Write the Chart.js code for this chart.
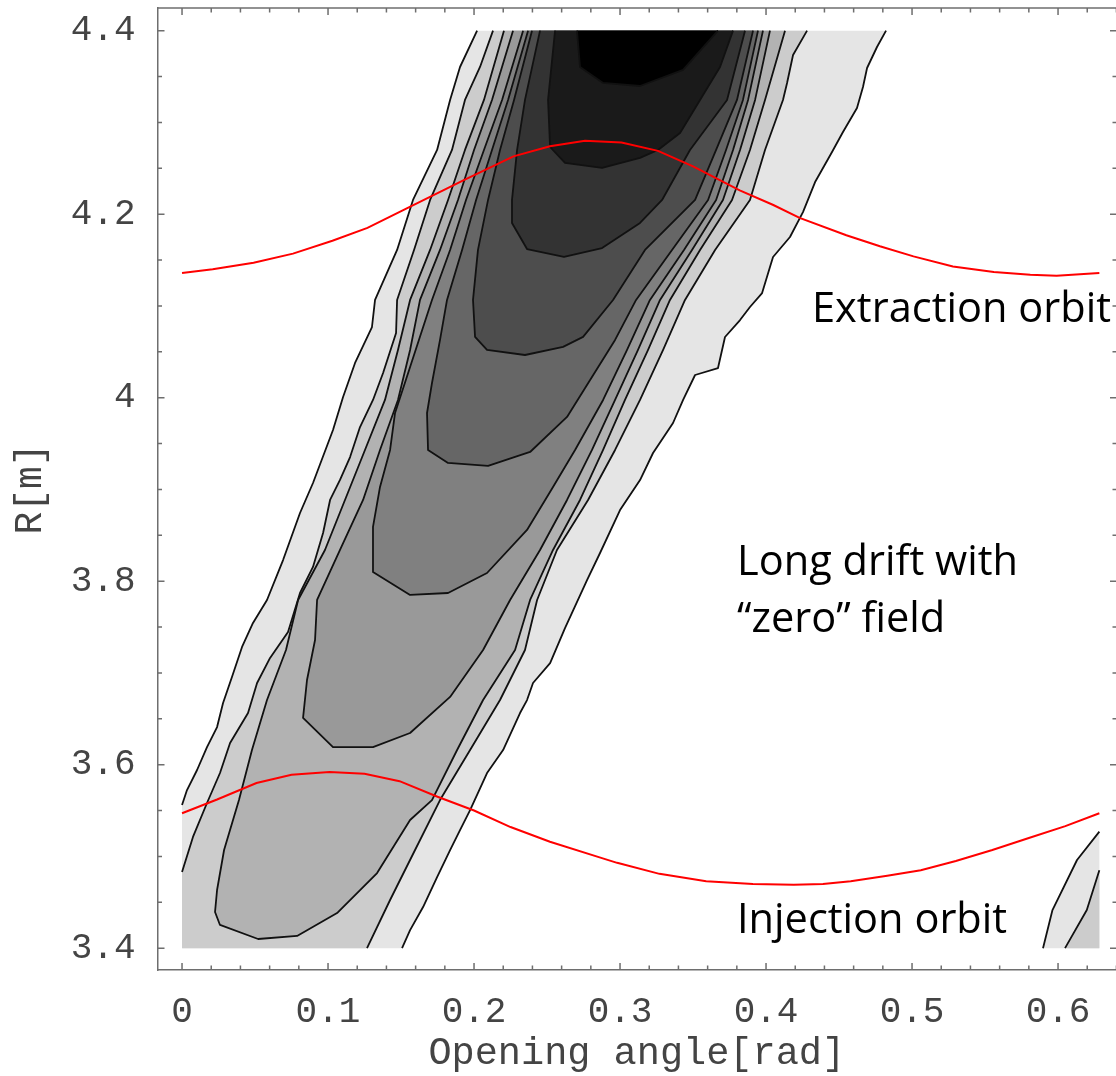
<!DOCTYPE html>
<html>
<head>
<meta charset="utf-8">
<script src="https://cdn.jsdelivr.net/npm/chart.js@4.4.1/dist/chart.umd.min.js"></script>
<style>
    html, body { margin: 0; padding: 0; background: #ffffff; }
    #chartWrap { width: 1116px; height: 1076px; position: relative; }
</style>
</head>
<body>
<div id="chartWrap"><canvas id="contourChart"></canvas></div>
<script>

// axis ticks
const xTickValues = [0, 0.1, 0.2, 0.3, 0.4, 0.5, 0.6];
const yTickValues = [3.4, 3.6, 3.8, 4.0, 4.2, 4.4];

// data region (the contour grid)
const dataXMax = 0.6283;
const dataYMin = 3.4;
const dataYMax = 4.4;

// red orbits
const extractionX = [0, 0.021, 0.049, 0.076, 0.103, 0.127, 0.156, 0.193, 0.227, 0.252, 0.276, 0.301, 0.326, 0.350, 0.382, 0.405, 0.423, 0.455, 0.478, 0.501, 0.528, 0.556, 0.581, 0.599, 0.6283];
const extractionY = [4.136, 4.140, 4.147, 4.157, 4.171, 4.185, 4.208, 4.237, 4.263, 4.274, 4.280, 4.278, 4.269, 4.252, 4.226, 4.210, 4.196, 4.177, 4.165, 4.154, 4.143, 4.137, 4.134, 4.133, 4.136];

const injectionX = [0, 0.024, 0.051, 0.075, 0.101, 0.125, 0.149, 0.175, 0.200, 0.225, 0.252, 0.286, 0.298, 0.327, 0.359, 0.391, 0.419, 0.439, 0.458, 0.483, 0.506, 0.530, 0.555, 0.580, 0.605, 0.6283];
const injectionY = [3.547, 3.562, 3.580, 3.589, 3.592, 3.590, 3.582, 3.565, 3.550, 3.532, 3.516, 3.499, 3.493, 3.481, 3.473, 3.470, 3.469, 3.470, 3.473, 3.479, 3.485, 3.495, 3.507, 3.520, 3.533, 3.547];

// contour regions, outermost (lightest) to innermost (darkest)
const contourLevel1 = [
    [0.2021, 4.4], [0.1904, 4.3604], [0.1836, 4.3245], [0.1747, 4.27], [0.1582, 4.2155], [0.1473, 4.161],
    [0.1322, 4.1065], [0.1301, 4.077], [0.1185, 4.0378], [0.1103, 4.0008], [0.1034, 3.9648], [0.0897, 3.907],
    [0.0808, 3.8743], [0.0692, 3.823], [0.0582, 3.7795], [0.0486, 3.7545], [0.0411, 3.7283], [0.0342, 3.6956],
    [0.0281, 3.6672], [0.024, 3.641], [0.0171, 3.6192], [0.0103, 3.5942], [0.0034, 3.5723], [0, 3.556],
    [0, 3.4],
    [0.1507, 3.4], [0.1562, 3.4197], [0.1651, 3.4448], [0.1747, 3.4775], [0.1836, 3.5069], [0.1904, 3.5287],
    [0.1973, 3.5505], [0.2089, 3.5909], [0.2199, 3.6159], [0.2315, 3.6563], [0.2363, 3.6704], [0.2404, 3.689],
    [0.2521, 3.7107], [0.2623, 3.7489], [0.2774, 3.8012], [0.2863, 3.8307], [0.3, 3.8775], [0.3137, 3.9102],
    [0.3226, 3.9397], [0.3363, 3.9724], [0.3432, 3.9975], [0.3514, 4.0247], [0.3671, 4.0323], [0.3719, 4.0661],
    [0.3822, 4.0846], [0.389, 4.0988], [0.3973, 4.114], [0.4027, 4.1424], [0.4048, 4.1533], [0.4164, 4.1751],
    [0.4253, 4.2023], [0.4336, 4.235], [0.4452, 4.2677], [0.4527, 4.2895], [0.4623, 4.3157], [0.4664, 4.3386],
    [0.4692, 4.3593], [0.476, 4.3822], [0.4822, 4.4]
];

const contourLevel2 = [
    [0.213, 4.4], [0.2041, 4.3604], [0.1938, 4.3245], [0.1849, 4.27], [0.1699, 4.2155], [0.1589, 4.161],
    [0.1473, 4.1065], [0.1466, 4.0705], [0.1377, 4.0269], [0.1308, 3.9975], [0.1219, 3.968], [0.1151, 3.9353],
    [0.1082, 3.9103], [0.1014, 3.8885], [0.0966, 3.8525], [0.0897, 3.8155], [0.0808, 3.7871], [0.0726, 3.7447],
    [0.0603, 3.7163], [0.0514, 3.689], [0.0452, 3.6563], [0.0329, 3.6236], [0.026, 3.5909], [0.0171, 3.5582],
    [0.0075, 3.5212], [0, 3.483],
    [0, 3.4],
    [0.1267, 3.4], [0.1425, 3.4525], [0.1596, 3.507], [0.1767, 3.5614], [0.1973, 3.616], [0.2178, 3.6705],
    [0.2349, 3.725], [0.2432, 3.7795], [0.2568, 3.834], [0.2781, 3.8885], [0.2966, 3.943], [0.3137, 3.9975],
    [0.3295, 4.052], [0.3445, 4.1065], [0.3651, 4.161], [0.389, 4.2155], [0.3993, 4.27], [0.4116, 4.3245],
    [0.4144, 4.343], [0.4185, 4.3735], [0.4281, 4.4]
];

const contourLevel3 = [
    [0.2205, 4.4], [0.2068, 4.3245], [0.1938, 4.27], [0.1822, 4.2155], [0.1699, 4.161], [0.1562, 4.1065],
    [0.1479, 4.052], [0.139, 3.9975], [0.1253, 3.943], [0.1116, 3.8885], [0.0979, 3.834], [0.0795, 3.7795],
    [0.0712, 3.725], [0.0582, 3.6705], [0.0479, 3.616], [0.039, 3.5614], [0.0288, 3.507], [0.024, 3.4634],
    [0.0226, 3.4394], [0.026, 3.4253], [0.0521, 3.41], [0.0788, 3.4133], [0.1062, 3.4383], [0.1336, 3.4819],
    [0.1562, 3.5397], [0.1712, 3.5614], [0.1884, 3.616], [0.2062, 3.6705], [0.2281, 3.725], [0.2384, 3.7795],
    [0.2541, 3.834], [0.2726, 3.8885], [0.2884, 3.943], [0.3034, 3.9975], [0.3192, 4.052], [0.3342, 4.1065],
    [0.3548, 4.161], [0.3767, 4.2155], [0.389, 4.27], [0.3993, 4.3245], [0.413, 4.4]
];

const contourLevel4 = [
    [0.2267, 4.4], [0.2123, 4.3245], [0.2, 4.27], [0.189, 4.2155], [0.1767, 4.161], [0.163, 4.1065],
    [0.1562, 4.052], [0.1479, 3.9975], [0.1356, 3.943], [0.124, 3.8885], [0.1082, 3.834], [0.0925, 3.7795],
    [0.0911, 3.7359], [0.0856, 3.6923], [0.0829, 3.6509], [0.1034, 3.6192], [0.1308, 3.6192], [0.1562, 3.6345],
    [0.1836, 3.6738], [0.2062, 3.725], [0.2247, 3.7795], [0.2452, 3.834], [0.2637, 3.8885], [0.2808, 3.943],
    [0.2966, 3.9975], [0.3123, 4.052], [0.3274, 4.1065], [0.3493, 4.161], [0.3705, 4.2155], [0.3822, 4.27],
    [0.3925, 4.3245], [0.4027, 4.4]
];

const contourLevel5 = [
    [0.2336, 4.4], [0.2192, 4.3245], [0.2068, 4.27], [0.1945, 4.2155], [0.1836, 4.161], [0.1712, 4.1065],
    [0.1562, 4.0334], [0.1459, 3.9833], [0.1425, 3.943], [0.1356, 3.9027], [0.1308, 3.8591], [0.1308, 3.81],
    [0.1562, 3.785], [0.1822, 3.7871], [0.2089, 3.8089], [0.2363, 3.8558], [0.2541, 3.9027], [0.2692, 3.943],
    [0.2884, 3.9975], [0.3048, 4.052], [0.3205, 4.1065], [0.3438, 4.161], [0.3658, 4.2155], [0.3774, 4.27],
    [0.3877, 4.3245], [0.3979, 4.4]
];

const contourLevel6 = [
    [0.237, 4.4], [0.2233, 4.3245], [0.2123, 4.27], [0.2014, 4.2155], [0.1918, 4.161], [0.1815, 4.1065],
    [0.1767, 4.0629], [0.1712, 4.016], [0.1678, 3.9833], [0.1685, 3.943], [0.1822, 3.9289], [0.2096, 3.9256],
    [0.2384, 3.9408], [0.2637, 3.979], [0.2795, 4.0193], [0.2966, 4.0629], [0.311, 4.1065], [0.3356, 4.161],
    [0.3603, 4.2155], [0.3726, 4.27], [0.3842, 4.3245], [0.3945, 4.4]
];

const contourLevel7 = [
    [0.2397, 4.4], [0.2274, 4.3245], [0.2178, 4.27], [0.2096, 4.2155], [0.2027, 4.161], [0.1993, 4.1065],
    [0.2007, 4.0662], [0.2089, 4.052], [0.2349, 4.0465], [0.261, 4.0553], [0.2747, 4.0662], [0.2952, 4.1065],
    [0.3171, 4.161], [0.3514, 4.2155], [0.3658, 4.27], [0.3801, 4.3245], [0.3911, 4.4]
];

const contourLevel8 = [
    [0.2452, 4.4], [0.2349, 4.3245], [0.2295, 4.27], [0.226, 4.2155], [0.226, 4.1904], [0.2363, 4.162],
    [0.2616, 4.1535], [0.2877, 4.163], [0.3137, 4.1904], [0.3288, 4.2155], [0.3479, 4.27], [0.3733, 4.3245],
    [0.3856, 4.4]
];

const contourLevel9 = [
    [0.2555, 4.4], [0.2507, 4.3245], [0.2521, 4.2732], [0.2623, 4.2558], [0.2877, 4.2504], [0.3137, 4.2613],
    [0.326, 4.27], [0.3411, 4.2885], [0.3548, 4.3245], [0.3685, 4.3604], [0.3774, 4.4]
];

const contourLevel10 = [
    [0.2705, 4.4], [0.2726, 4.3604], [0.2884, 4.343], [0.3137, 4.3397], [0.3432, 4.3572], [0.3671, 4.4]
];

// next band coming in at the lower right corner
const cornerLevel1 = [[0.5897, 3.4], [0.5961, 3.4411], [0.613, 3.4961], [0.6283, 3.527], [0.6283, 3.4]];
const cornerLevel2 = [[0.6048, 3.4], [0.6197, 3.4416], [0.6283, 3.485], [0.6283, 3.4]];

const levelGrays = ['#e5e5e5', '#cccccc', '#b2b2b2', '#999999', '#808080', '#666666', '#4d4d4d', '#333333', '#1a1a1a', '#000000'];

// text notes (placed in data units, baseline left)
const noteTexts = ['Extraction orbit', 'Long drift with', '\u201Czero\u201D field', 'Injection orbit'];
const noteX = [0.4315, 0.3801, 0.3801, 0.3801];
const noteY = [4.082, 3.807, 3.745, 3.417];


function toPoints(list) {
    return list.map(function(p) {
        return { x: p[0], y: p[1] };
    });
}

function zipPoints(xs, ys) {
    return xs.map(function(x, i) {
        return { x: x, y: ys[i] };
    });
}

// segment lying on the grid border -> no contour line
function onDataEdge(a, b) {
    const eps = 1e-6;
    if (Math.abs(a.x) < eps && Math.abs(b.x) < eps) return true;
    if (Math.abs(a.x - dataXMax) < eps && Math.abs(b.x - dataXMax) < eps) return true;
    if (Math.abs(a.y - dataYMin) < eps && Math.abs(b.y - dataYMin) < eps) return true;
    if (Math.abs(a.y - dataYMax) < eps && Math.abs(b.y - dataYMax) < eps) return true;
    return false;
}

function fillDataset(list, level) {
    return {
        data: toPoints(list),
        fill: 'shape',
        backgroundColor: levelGrays[level],
        borderColor: 'rgba(0,0,0,0)',
        borderWidth: 0,
        pointRadius: 0,
        tension: 0,
        order: 40 - level
    };
}

function strokeDataset(list) {
    return {
        data: toPoints(list),
        fill: false,
        borderColor: '#111111',
        borderWidth: 1.8,
        borderJoinStyle: 'round',
        pointRadius: 0,
        tension: 0,
        order: 5,
        segment: {
            borderColor: function(ctx) {
                return onDataEdge(ctx.p0.parsed, ctx.p1.parsed) ? 'rgba(0,0,0,0)' : undefined;
            }
        }
    };
}

function orbitDataset(xs, ys) {
    return {
        data: zipPoints(xs, ys),
        fill: false,
        borderColor: '#ff0000',
        borderWidth: 2,
        pointRadius: 0,
        tension: 0,
        order: 0
    };
}

function buildDatasets() {

    const levels = [contourLevel1, contourLevel2, contourLevel3, contourLevel4, contourLevel5,
        contourLevel6, contourLevel7, contourLevel8, contourLevel9, contourLevel10];

    const datasets = [];

    datasets.push(orbitDataset(extractionX, extractionY));
    datasets.push(orbitDataset(injectionX, injectionY));

    levels.forEach(function(list, i) {
        datasets.push(fillDataset(list, i));
        datasets.push(strokeDataset(list));
    });

    datasets.push(fillDataset(cornerLevel1, 0));
    datasets.push(strokeDataset(cornerLevel1));
    datasets.push(fillDataset(cornerLevel2, 1));
    datasets.push(strokeDataset(cornerLevel2));

    return datasets;
}


// frame on top/right, inward tick marks, notes
const frameTicksPlugin = {
    id: 'frameTicks',
    afterDraw: function(chart) {

        const ctx = chart.ctx;
        const area = chart.chartArea;
        const xs = chart.scales.x;
        const ys = chart.scales.y;
        const rightEdge = area.right + 1;

        ctx.save();
        ctx.strokeStyle = '#6e6e6e';
        ctx.lineWidth = 1.5;

        ctx.beginPath();
        ctx.moveTo(area.left, area.top);
        ctx.lineTo(rightEdge, area.top);
        ctx.stroke();

        for (let i = 0; i <= 32; i++) {
            const px = xs.getPixelForValue(i * 0.02);
            const len = (i % 5 === 0) ? 7 : 4.5;
            ctx.beginPath();
            ctx.moveTo(px, area.bottom);
            ctx.lineTo(px, area.bottom - len);
            ctx.moveTo(px, area.top);
            ctx.lineTo(px, area.top + len);
            ctx.stroke();
        }

        for (let i = 0; i <= 20; i++) {
            const py = ys.getPixelForValue(3.4 + i * 0.05);
            const len = (i % 4 === 0) ? 7 : 4.5;
            ctx.beginPath();
            ctx.moveTo(area.left, py);
            ctx.lineTo(area.left + len, py);
            ctx.moveTo(rightEdge, py);
            ctx.lineTo(rightEdge - len, py);
            ctx.stroke();
        }

        ctx.fillStyle = '#000000';
        ctx.font = "42px 'Open Sans'";
        ctx.textBaseline = 'alphabetic';
        ctx.textAlign = 'left';
        const squeeze = 281 / ctx.measureText('Long drift with').width;

        noteTexts.forEach(function(text, i) {
            ctx.save();
            ctx.translate(xs.getPixelForValue(noteX[i]), ys.getPixelForValue(noteY[i]));
            ctx.scale(squeeze, 1);
            ctx.fillText(text, 0, 0);
            ctx.restore();
        });

        ctx.restore();
    }
};


function formatTick(value) {
    return String(Math.round(value * 10) / 10);
}

function initContourChart() {

    const ctx = document.getElementById('contourChart');

    if (!ctx) {
        return;
    }

    new Chart(ctx.getContext('2d'), {
        type: 'line',
        data: {
            datasets: buildDatasets()
        },
        options: {
            responsive: true,
            maintainAspectRatio: false,
            animation: false,
            events: [],
            layout: {
                padding: { top: 8, right: 0, bottom: 0, left: 0 }
            },
            plugins: {
                legend: { display: false },
                tooltip: { enabled: false }
            },
            scales: {
                x: {
                    type: 'linear',
                    min: -0.0168,
                    max: 0.6397,
                    grid: { display: false, drawTicks: false },
                    border: { display: true, color: '#6e6e6e', width: 1.5 },
                    afterBuildTicks: function(scale) {
                        scale.ticks = xTickValues.map(function(v) { return { value: v }; });
                    },
                    afterFit: function(scale) {
                        scale.height = 106;
                        scale.paddingLeft = 0;
                        scale.paddingRight = 0;
                    },
                    ticks: {
                        autoSkip: false,
                        maxRotation: 0,
                        padding: 21,
                        color: '#444444',
                        font: { family: "'Liberation Mono', monospace", size: 36 },
                        callback: formatTick
                    },
                    title: {
                        display: true,
                        text: 'Opening angle[rad]',
                        color: '#444444',
                        padding: { top: 0, bottom: -1 },
                        font: { family: "'Liberation Mono', monospace", size: 38.6 }
                    }
                },
                y: {
                    type: 'linear',
                    min: 3.3762,
                    max: 4.4247,
                    grid: { display: false, drawTicks: false },
                    border: { display: true, color: '#6e6e6e', width: 1.5 },
                    afterBuildTicks: function(scale) {
                        scale.ticks = yTickValues.map(function(v) { return { value: v }; });
                    },
                    afterFit: function(scale) {
                        scale.width = 157.5;
                        scale.paddingTop = 0;
                        scale.paddingBottom = 0;
                    },
                    ticks: {
                        autoSkip: false,
                        padding: 22,
                        color: '#444444',
                        font: { family: "'Liberation Mono', monospace", size: 36 },
                        callback: formatTick
                    },
                    title: {
                        display: true,
                        text: 'R[m]',
                        color: '#444444',
                        padding: { top: 8, bottom: 0 },
                        font: { family: "'Liberation Mono', monospace", size: 38 }
                    }
                }
            }
        },
        plugins: [frameTicksPlugin]
    });
}


initContourChart();

</script>
</body>
</html>
